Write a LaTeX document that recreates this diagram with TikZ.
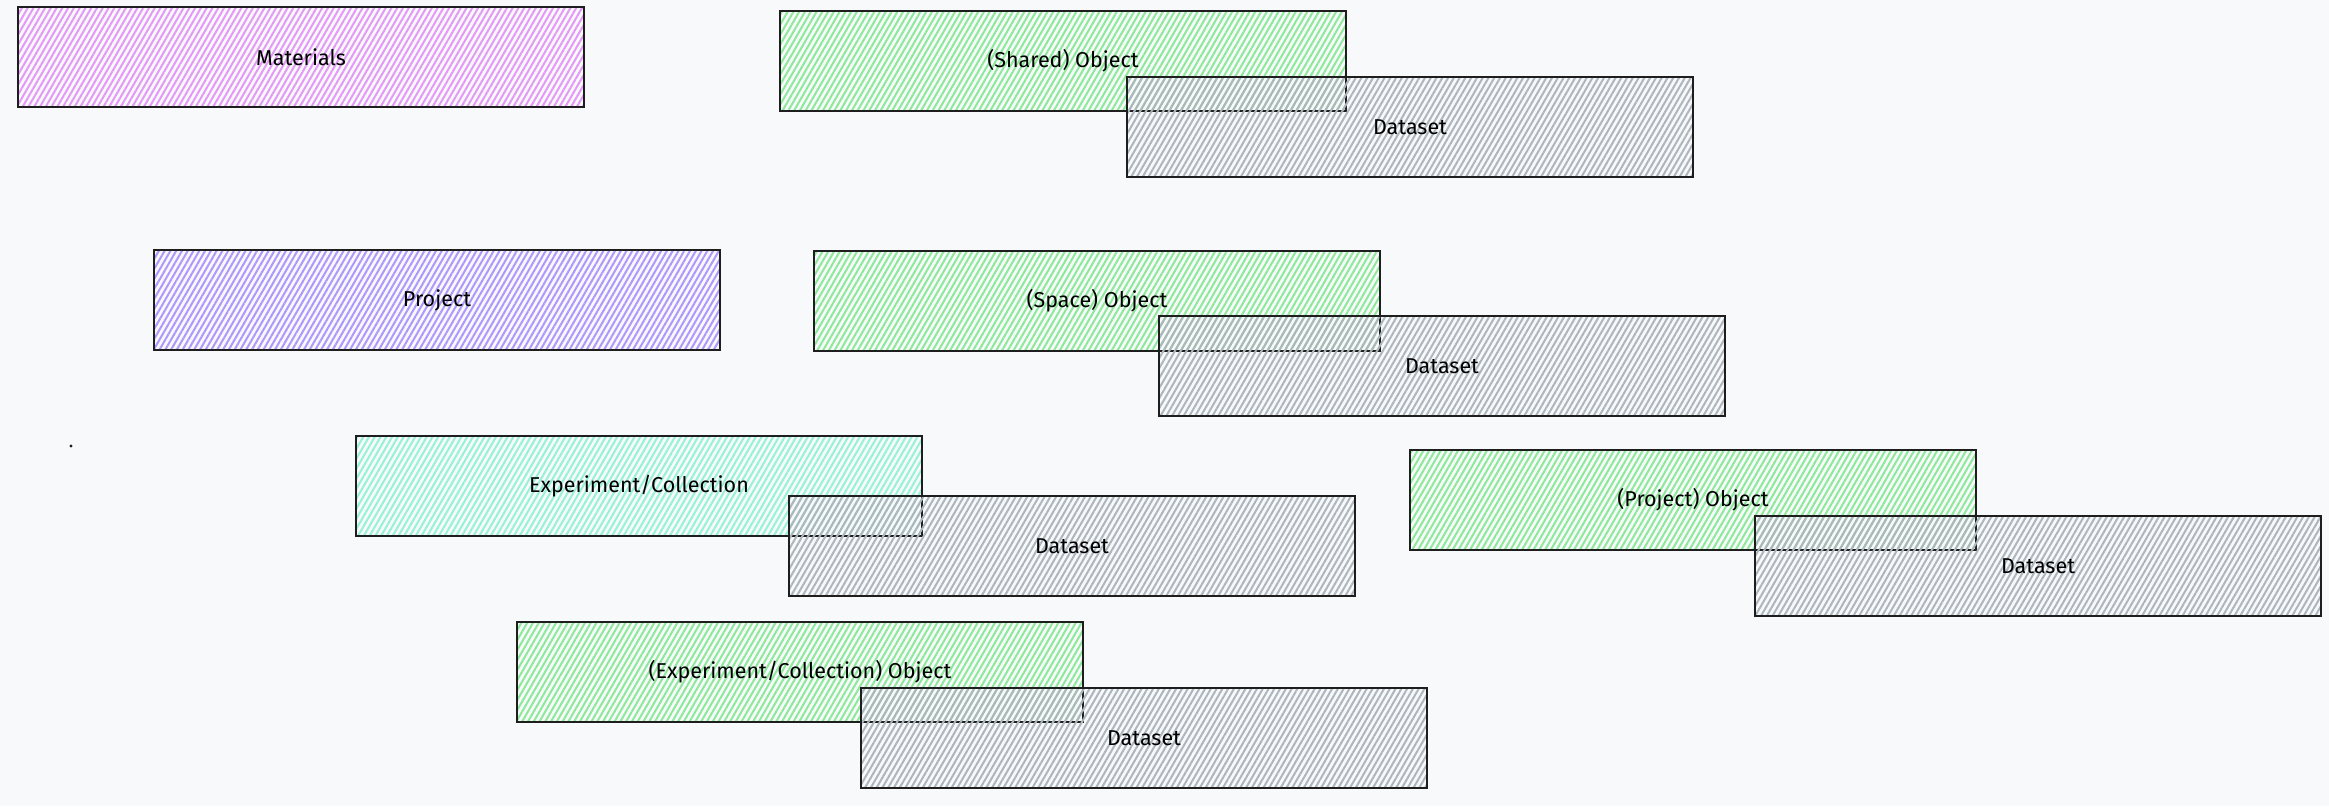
\documentclass[tikz,border=0pt]{standalone}
\usepackage{fontspec}
\setmainfont{Fira Sans}
\usepackage{tikz}
\usetikzlibrary{patterns.meta}
\definecolor{bgcol}{HTML}{F8F9FA}
\definecolor{inkcol}{HTML}{1E1E1E}
\definecolor{grapecol}{HTML}{E599F7}
\definecolor{greencol}{HTML}{8CE99A}
\definecolor{greycol}{HTML}{ADB5BD}
\definecolor{violetcol}{HTML}{B197FC}
\definecolor{tealcol}{HTML}{96F2D7}
\tikzset{
  sketch/.style={shape=rectangle, draw=inkcol, line width=1.3pt, minimum width=566pt, minimum height=100pt, font=\fontsize{21.5}{26}\selectfont},
  hatch/.style={sketch, pattern={Lines[angle=60,distance=5pt,line width=2pt]}, pattern color=#1},
}

\begin{document}
\begin{tikzpicture}[x=1pt,y=-1pt]
%background and page size
\fill[bgcol] (0,0) rectangle (2329,806);

%left column
\node [hatch=grapecol] at (301,57) (materials) {Materials};
\node [hatch=violetcol] at (437,300) (project) {Project};
\node [hatch=tealcol] at (639,486) (expcoll) {Experiment/Collection};
\fill[inkcol] (71,446) circle (1.6pt);

%objects
\node [hatch=greencol] at (1063,61) (sharedobj) {(Shared) Object};
\node [hatch=greencol] at (1097,301) (spaceobj) {(Space) Object};
\node [hatch=greencol] at (1693,500) (projobj) {(Project) Object};
\node [hatch=greencol] at (800,672) (expcollobj) {(Experiment/Collection) Object};

%datasets on top
\node [hatch=greycol] at (1410,127) (sharedds) {Dataset};
\node [hatch=greycol] at (1442,366) (spaceds) {Dataset};
\node [hatch=greycol] at (1072,546) (expcollds) {Dataset};
\node [hatch=greycol] at (2038,566) (projds) {Dataset};
\node [hatch=greycol] at (1144,738) (expcollobjds) {Dataset};

\end{tikzpicture}
\end{document}
